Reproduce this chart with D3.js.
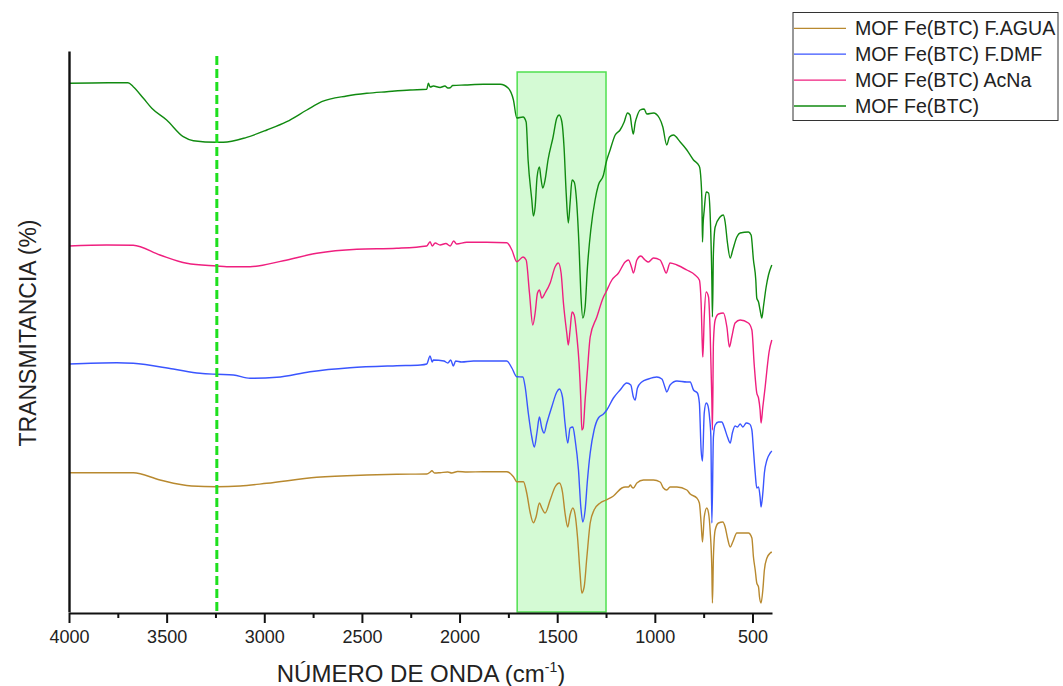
<!DOCTYPE html>
<html>
<head>
<meta charset="utf-8">
<script src="https://cdnjs.cloudflare.com/ajax/libs/d3/7.8.5/d3.min.js"></script>
<style>
  html, body { margin: 0; padding: 0; background: #fff; }
  svg { display: block; font-family: "Liberation Sans", Arial, sans-serif; }
</style>
</head>
<body>
<svg id="chart" width="1063" height="686"></svg>
<script>
// FTIR spectra of MOF Fe(BTC) samples, stacked with vertical offsets.
// Each series: [wavenumber (cm-1), transmittance (offset units)]

const seriesNames = [
  "MOF Fe(BTC) F.AGUA",
  "MOF Fe(BTC) F.DMF",
  "MOF Fe(BTC) AcNa",
  "MOF Fe(BTC)"
];
const seriesColors = ["#b8892f", "#3a55ff", "#ef1f7f", "#108a10"];

const xTicks = [4000, 3500, 3000, 2500, 2000, 1500, 1000, 500];
const xMinorTicks = [3750, 3250, 2750, 2250, 1750, 1250, 750];

// highlighted carboxylate region and O-H reference line
const bandRange = [1705, 1250];
const bandTop = 54.0;
const markerWavenumber = 3243;

const feBtcAgua = [
  [4000,13.93],[3800,13.93],[3671,13.93],[3534,13.2],[3372,12.6],[3243,12.53],[3124,12.6],
  [2987,12.87],[2731,13.47],[2475,13.7],[2322,13.77],[2168,13.8],[2150,14.0],[2142,14.13],
  [2128,13.9],[2100,13.93],[2060,14.0],[2040,13.9],[2010,14.05],[1960,14.0],[1878,14.03],
  [1758,14.03],[1724,13.53],[1707,13.03],[1673,13.03],[1656,11.9],[1639,10.0],[1622,8.93],
  [1608,9.53],[1591,10.9],[1579,10.4],[1562,9.9],[1536,11.2],[1511,12.5],[1489,12.9],
  [1473,12.0],[1460,9.9],[1446,8.5],[1434,9.7],[1420,10.4],[1408,9.7],[1396,7.5],
  [1383,3.9],[1374,1.9],[1362,2.5],[1348,5.5],[1331,8.9],[1311,10.2],[1280,10.9],
  [1250,11.2],[1212,11.6],[1169,12.4],[1152,12.5],[1135,12.5],[1125,12.7],[1118,12.5],
  [1110,12.4],[1092,12.9],[1058,13.2],[1007,13.2],[973,13.0],[956,12.4],[939,12.2],
  [922,12.5],[887,12.5],[836,12.2],[819,11.8],[785,11.4],[772,10.9],[763,8.9],[756,7.0],
  [747,9.5],[734,10.4],[725,9.9],[717,8.2],[708,4.2],[705,0.9],[700,5.5],[691,8.2],
  [674,8.9],[652,9.0],[640,8.5],[628,7.4],[614,6.5],[601,7.0],[580,7.9],[554,7.9],
  [521,7.9],[503,7.4],[495,5.5],[486,4.2],[478,2.9],[469,2.5],[464,1.5],[456,0.9],
  [447,2.2],[439,4.2],[426,5.4],[409,5.9],[401,6.0]
];

const feBtcDmf = [
  [4000,24.8],[3756,24.93],[3671,24.87],[3466,24.3],[3329,23.87],[3243,23.77],[3158,23.7],
  [3073,23.37],[2936,23.47],[2766,24.03],[2561,24.43],[2322,24.63],[2200,24.7],[2168,24.8],
  [2151,25.6],[2140,25.0],[2134,25.2],[2080,25.1],[2060,24.9],[2045,25.2],[2032,24.6],
  [2020,25.1],[1990,25.0],[1929,25.1],[1758,25.1],[1732,24.4],[1707,23.53],[1676,23.5],
  [1664,22.5],[1648,19.9],[1630,17.5],[1617,16.5],[1604,17.9],[1591,19.5],[1579,18.4],
  [1567,17.9],[1553,18.9],[1528,20.5],[1502,22.0],[1489,22.3],[1473,21.5],[1460,18.9],
  [1446,16.9],[1434,18.4],[1420,18.5],[1408,17.2],[1391,14.2],[1379,10.5],[1369,9.0],
  [1357,10.2],[1345,13.2],[1331,15.9],[1311,18.2],[1289,19.4],[1263,19.8],[1246,20.2],
  [1212,21.4],[1178,22.2],[1144,22.9],[1123,22.7],[1110,21.5],[1101,21.2],[1089,22.4],
  [1067,23.0],[1033,23.3],[990,23.5],[964,23.3],[947,22.4],[939,22.0],[922,22.7],
  [887,23.1],[836,23.0],[819,23.0],[802,22.2],[782,21.9],[772,20.9],[763,16.2],[756,15.1],
  [747,19.9],[737,20.9],[729,20.7],[720,19.5],[713,17.5],[708,8.9],[700,17.5],[691,18.7],
  [674,19.0],[657,19.0],[645,18.5],[628,17.5],[614,16.9],[603,17.9],[589,18.6],[577,18.5],
  [563,18.8],[549,18.5],[532,18.9],[515,18.8],[503,18.2],[495,16.2],[486,13.9],[478,12.4],
  [469,12.5],[461,11.5],[456,10.5],[447,11.9],[439,13.9],[426,15.2],[409,15.9],[401,16.1]
];

const feBtcAcNa = [
  [4000,36.6],[3807,36.7],[3671,36.67],[3534,35.7],[3397,34.87],[3243,34.6],[3192,34.53],
  [3073,34.53],[2902,35.13],[2731,35.87],[2526,36.27],[2322,36.37],[2168,36.6],[2151,37.03],
  [2140,36.6],[2125,36.9],[2100,36.7],[2070,36.85],[2048,36.6],[2030,37.1],[2015,36.8],
  [1963,36.97],[1861,36.97],[1758,36.93],[1732,36.2],[1707,35.03],[1675,35.5],[1659,35.2],
  [1642,31.9],[1625,28.7],[1613,29.9],[1601,31.9],[1591,32.2],[1579,31.4],[1562,31.9],
  [1536,32.9],[1511,34.5],[1494,34.9],[1480,33.9],[1468,30.9],[1451,27.9],[1443,26.7],
  [1434,28.2],[1424,30.0],[1413,29.7],[1400,27.7],[1388,24.9],[1379,21.2],[1374,18.2],
  [1367,18.4],[1357,21.2],[1345,24.2],[1331,27.5],[1297,29.5],[1263,31.5],[1250,32.0],
  [1220,33.2],[1186,33.9],[1152,35.0],[1135,35.2],[1118,34.4],[1110,33.9],[1092,35.2],
  [1072,35.6],[1050,35.2],[1033,35.0],[1007,35.4],[973,35.2],[956,34.5],[942,33.9],
  [922,34.9],[887,34.7],[836,34.2],[794,33.7],[772,33.2],[763,30.9],[756,26.2],[754,25.5],
  [747,29.5],[737,32.0],[725,31.5],[717,28.2],[708,21.2],[705,18.2],[700,26.9],[691,29.2],
  [674,29.8],[649,29.9],[631,28.5],[618,26.5],[606,27.5],[589,28.9],[563,29.2],[521,28.9],
  [503,28.2],[491,24.7],[478,21.9],[469,21.4],[461,20.2],[456,18.9],[447,20.5],[435,22.5],
  [426,24.2],[415,26.0],[401,27.2]
];

const feBtc = [
  [4000,52.87],[3800,52.93],[3698,52.93],[3671,52.53],[3619,51.37],[3576,50.37],[3500,49.2],
  [3415,47.53],[3363,47.13],[3243,46.97],[3210,46.97],[3090,47.47],[2987,48.2],[2885,49.03],
  [2782,50.2],[2706,51.03],[2578,51.6],[2475,51.87],[2373,52.03],[2253,52.2],[2168,52.27],
  [2160,52.87],[2150,52.5],[2134,52.6],[2100,52.45],[2075,52.6],[2060,52.4],[2048,52.43],
  [2035,52.65],[1972,52.7],[1878,52.77],[1792,52.77],[1750,52.37],[1724,51.2],[1707,49.4],
  [1675,49.5],[1659,49.0],[1649,45.2],[1630,41.2],[1622,39.6],[1613,40.5],[1603,43.5],
  [1591,44.5],[1584,43.5],[1574,42.4],[1562,43.2],[1547,45.2],[1521,47.5],[1502,49.4],
  [1490,49.7],[1476,49.0],[1465,46.5],[1454,41.9],[1443,38.9],[1434,40.9],[1424,43.2],
  [1413,43.0],[1400,40.9],[1388,36.5],[1379,31.9],[1369,29.4],[1357,30.5],[1345,34.5],
  [1328,38.2],[1306,41.2],[1289,42.7],[1263,43.7],[1250,44.9],[1229,46.2],[1203,47.7],
  [1178,48.2],[1157,49.0],[1140,49.9],[1127,49.7],[1118,48.5],[1110,47.8],[1101,48.9],
  [1089,49.7],[1075,50.2],[1055,50.3],[1041,49.8],[1007,49.9],[977,49.4],[959,48.5],
  [939,46.7],[925,47.5],[905,47.7],[870,47.0],[836,46.2],[802,45.2],[773,44.6],[768,44.2],
  [759,41.2],[756,37.0],[753,38.7],[747,40.2],[737,42.0],[725,41.9],[717,39.9],[708,33.2],
  [705,29.5],[700,35.9],[691,38.5],[666,39.5],[649,39.7],[640,39.0],[628,36.9],[614,35.4],
  [601,36.2],[580,37.5],[563,37.9],[521,38.0],[507,37.7],[495,35.2],[483,33.2],[478,31.4],
  [469,31.0],[461,30.2],[452,29.4],[444,30.5],[430,32.5],[418,33.7],[401,34.7]
];

const seriesData = [feBtcAgua, feBtcDmf, feBtcAcNa, feBtc];

const svg = d3.select("#chart");
const x = d3.scaleLinear().domain([4000, 400]).range([69, 772]);
const y = d3.scaleLinear().domain([0, 56.1]).range([612, 51]);

// highlighted band
svg.append("rect")
  .attr("x", x(bandRange[0]))
  .attr("y", y(bandTop))
  .attr("width", x(bandRange[1]) - x(bandRange[0]))
  .attr("height", y(0) - y(bandTop))
  .attr("fill", "#d4fad4")
  .attr("stroke", "#4fe04f")
  .attr("stroke-width", 1.5);

// spectra
const line = d3.line()
  .x(d => x(d[0]))
  .y(d => y(d[1]))
  .curve(d3.curveMonotoneX);
seriesData.forEach((s, i) => {
  svg.append("path")
    .datum(s)
    .attr("d", line)
    .attr("fill", "none")
    .attr("stroke", seriesColors[i])
    .attr("stroke-width", 1.4)
    .attr("stroke-linejoin", "round");
});

// dashed reference line
svg.append("line")
  .attr("x1", x(markerWavenumber)).attr("x2", x(markerWavenumber))
  .attr("y1", y(55.6)).attr("y2", y(0))
  .attr("stroke", "#1ee01e")
  .attr("stroke-width", 3)
  .attr("stroke-dasharray", "9,4");

// axes
const xAxis = d3.axisBottom(x)
  .tickValues(xTicks)
  .tickSize(10)
  .tickSizeOuter(0)
  .tickPadding(7)
  .tickFormat(d3.format("d"));
const gx = svg.append("g").attr("transform", "translate(0,613)").call(xAxis);
gx.select(".domain").attr("stroke", "#111").attr("stroke-width", 2);
gx.selectAll(".tick line").attr("stroke", "#111").attr("stroke-width", 2);
gx.selectAll(".tick text")
  .attr("fill", "#222")
  .style("font-size", "18px")
  .style("font-family", "'Liberation Sans', Arial, sans-serif");

const xMinor = d3.axisBottom(x).tickValues(xMinorTicks).tickSize(5).tickFormat("");
const gm = svg.append("g").attr("transform", "translate(0,613)").call(xMinor);
gm.select(".domain").remove();
gm.selectAll(".tick line").attr("stroke", "#111").attr("stroke-width", 2);

// left axis (no tick labels)
const yAxis = d3.axisLeft(y).tickValues([]).tickSizeOuter(0);
const gy = svg.append("g").attr("transform", "translate(69,0)").call(yAxis);
gy.select(".domain").attr("stroke", "#111").attr("stroke-width", 2.4);

// axis titles
const xTitle = svg.append("text")
  .attr("x", 421).attr("y", 682)
  .attr("text-anchor", "middle")
  .attr("fill", "#222")
  .style("font-size", "24px");
xTitle.append("tspan").text("NÚMERO DE ONDA (cm");
xTitle.append("tspan").attr("dy", -10).style("font-size", "14px").text("-1");
xTitle.append("tspan").attr("dy", 10).text(")");

svg.append("text")
  .attr("transform", "translate(36,333) rotate(-90)")
  .attr("text-anchor", "middle")
  .attr("fill", "#222")
  .style("font-size", "23px")
  .text("TRANSMITANCIA (%)");

// legend
const legend = svg.append("g");
legend.append("rect")
  .attr("x", 793).attr("y", 12.5)
  .attr("width", 265).attr("height", 108)
  .attr("fill", "#fff")
  .attr("stroke", "#333")
  .attr("stroke-width", 1);
seriesNames.forEach((name, i) => {
  const ly = 28.3 + i * 25.9;
  legend.append("line")
    .attr("x1", 794).attr("x2", 846)
    .attr("y1", ly).attr("y2", ly)
    .attr("stroke", seriesColors[i])
    .attr("stroke-width", 1.3);
  legend.append("text")
    .attr("x", 855).attr("y", ly + 7)
    .attr("fill", "#222")
    .style("font-size", "19.6px")
    .text(name);
});
</script>
</body>
</html>
